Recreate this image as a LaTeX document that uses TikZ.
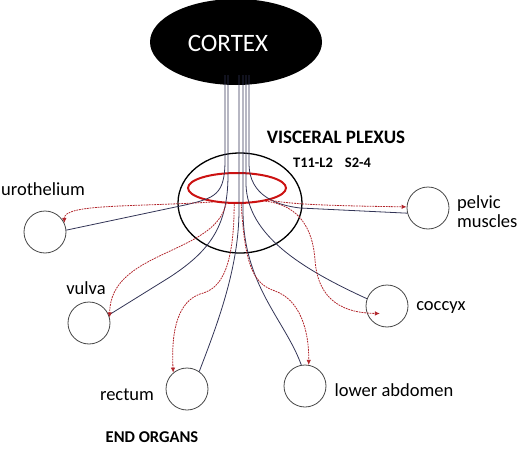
\documentclass[tikz,border=0pt]{standalone}
\usepackage{fontspec}
\setmainfont{Carlito}
\usetikzlibrary{shapes.geometric,arrows.meta}
\definecolor{nerve}{RGB}{50,52,86}
\definecolor{reflex}{RGB}{178,38,44}
\definecolor{ringred}{RGB}{204,18,18}
\begin{document}
\begin{tikzpicture}[x=1pt,y=-1pt]
	\tikzstyle{o} = [draw=black!72, shape=circle, minimum size=42pt, inner sep=0pt, line width=0.8pt]
	\tikzstyle{l} = [font=\fontsize{18.5}{19}\selectfont, inner sep=0pt, align=left]
	\tikzstyle{h} = [font=\bfseries\fontsize{19}{19}\selectfont, inner sep=0pt]
	\tikzstyle{n} = [draw=nerve, line width=0.8pt]
	\tikzstyle{a} = [draw=reflex, line width=0.8pt, dash pattern=on 1.8pt off 0.9pt, -{Latex[length=5pt,width=4.5pt]}]
	\useasboundingbox (0,0) rectangle (520,455);
	\node[shape=ellipse, fill=black, minimum width=172pt, minimum height=86pt, inner sep=0pt] (cortex) at (236,42) {};
	\node[text=white, font=\fontsize{25}{25}\selectfont, inner sep=0pt] (cortex-label) at (228,43) {CORTEX};
	\node[shape=ellipse, draw=black, line width=1.3pt, minimum width=124pt, minimum height=100pt, inner sep=0pt] (plexus) at (240,203) {};
	\node[shape=ellipse, draw=ringred, line width=2pt, minimum width=98pt, minimum height=30pt, inner sep=0pt] (ring) at (237,188) {};
	\node[h] (plexus-label) at (336,137) {VISCERAL PLEXUS};
	\node[h, font=\bfseries\fontsize{14.5}{14.5}\selectfont] (segments) at (332,163) {T11-L2\hspace{12pt}S2-4};
	\node[o] (uro) at (45,232) {};
	\node[o] (vulva) at (89,323) {};
	\node[o] (rectum) at (187,389) {};
	\node[o] (low) at (305,386) {};
	\node[o] (coccyx) at (387,306) {};
	\node[o] (pelvic) at (428,208) {};
	\node[l] (uro-label) at (43,189) {urothelium};
	\node[l] (vulva-label) at (86,288) {vulva};
	\node[l] (rectum-label) at (127,395) {rectum};
	\node[l] (low-label) at (394,390) {lower abdomen};
	\node[l] (coccyx-label) at (441,308) {coccyx};
	\node[l, anchor=west] (pelvic-label) at (457,212) {pelvic\\muscles};
	\node[h, font=\bfseries\fontsize{16.5}{16.5}\selectfont] (end-label) at (152,437) {END ORGANS};
	\coordinate (from-uro) at (225,75);
	\coordinate (from-vulva) at (228,75);
	\coordinate (from-rectum) at (239,75);
	\coordinate (from-low) at (243,75);
	\coordinate (from-coccyx) at (246,75);
	\coordinate (from-pelvic) at (249,75);
	\draw[n] (from-uro) -- (225,160) .. controls (225,195) and (215,198) .. (185,205) -- (uro.5);
	\draw[n] (from-vulva) -- (228,175) .. controls (228,228) and (208,252) .. (170,277) -- (vulva.22);
	\draw[n] (from-rectum) -- (239,210) .. controls (239,270) and (215,330) .. (rectum.55);
	\draw[n] (from-low) -- (243,210) .. controls (243,285) and (285,320) .. (low.100);
	\draw[n] (from-coccyx) -- (246,185) .. controls (248,235) and (300,268) .. (coccyx.160);
	\draw[n] (from-pelvic) -- (249,165) .. controls (250,195) and (275,205) .. (300,208) -- (pelvic.194);
	\draw[a] (ring.-150) .. controls (130,207) and (64,204) .. (uro.25);
	\draw[a] (ring.-125) .. controls (215,255) and (110,250) .. (vulva.15);
	\draw[a] (ring.-100) .. controls (234,280) and (215,290) .. (200,294) .. controls (178,302) and (171,330) .. (rectum.130);
	\draw[a] (ring.-75) .. controls (245,270) and (255,284) .. (275,291) .. controls (300,300) and (309,330) .. (low.80);
	\draw[a, shorten >=-13pt] (ring.-25) .. controls (300,205) and (313,230) .. (315,260) .. controls (318,302) and (345,313) .. (coccyx.200);
	\draw[a] (ring.-20) .. controls (290,205) and (350,206) .. (pelvic.177);
\end{tikzpicture}
\end{document}
